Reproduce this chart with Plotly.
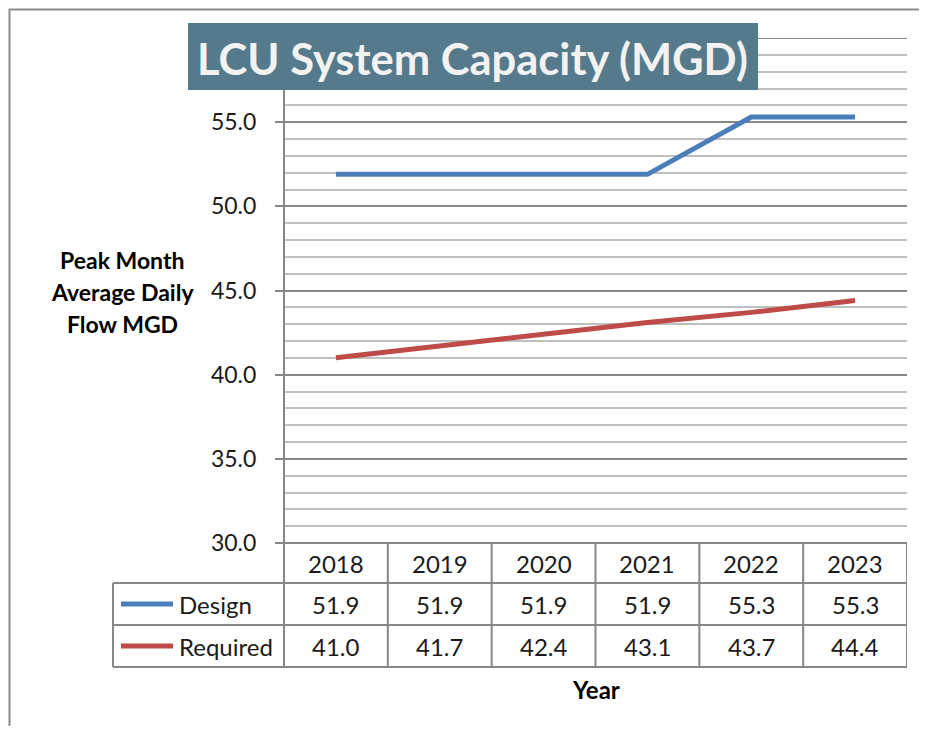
import plotly.graph_objects as go

years = ["2018", "2019", "2020", "2021", "2022", "2023"]
design = [51.9, 51.9, 51.9, 51.9, 55.3, 55.3]
required = [41.0, 41.7, 42.4, 43.1, 43.7, 44.4]
series_names = ["Design", "Required"]
series_colors = ["#4A7EBB", "#BE4B48"]
title_text = "LCU System Capacity (MGD)"
y_title_lines = ["Peak Month", "Average Daily", "Flow MGD"]
x_title = "Year"
y_ticks = [30, 35, 40, 45, 50, 55]

# page has an 8px body margin; keep the figure inside the window (no scrollbars)
OFF = 8
W, H = 927 - 2 * OFF, 734 - 2 * OFF
FONT = "Lato"
GRID_MAJOR = "#878787"
GRID_MINOR = "#BFBFBF"
TXT = "#1a1a1a"


def px(x):
    return (x - OFF) / W


def py(y):
    return 1 - (y - OFF) / H


fig = go.Figure()
for name, vals, col in zip(series_names, [design, required], series_colors):
    fig.add_trace(go.Scatter(x=list(range(len(years))), y=vals, mode="lines", name=name,
                             line=dict(color=col, width=5), showlegend=False, hoverinfo="skip"))

shapes = []
annotations = []

# outer frame
shapes.append(dict(type="rect", xref="paper", yref="paper", x0=px(9.5), x1=px(990), y0=py(9.5), y1=py(800),
                   line=dict(color="#8C8C8C", width=2), fillcolor="rgba(0,0,0,0)", layer="below"))

# table geometry
row_edges = [543, 583, 625, 667]
left_col = 113
line_style = dict(color=GRID_MAJOR, width=2)
shapes.append(dict(type="line", xref="x", yref="paper", x0=-0.5, x1=5.5, y0=py(543), y1=py(543), line=line_style, layer="above"))
for yy in row_edges[1:]:
    shapes.append(dict(type="line", xref="paper", yref="paper", x0=px(left_col), x1=px(907), y0=py(yy), y1=py(yy), line=line_style, layer="above"))
for i in range(len(years) + 1):
    shapes.append(dict(type="line", xref="x", yref="paper", x0=i - 0.5, x1=i - 0.5, y0=py(543), y1=py(667), line=line_style, layer="above"))
shapes.append(dict(type="line", xref="paper", yref="paper", x0=px(left_col), x1=px(left_col), y0=py(583), y1=py(667), line=line_style, layer="above"))

hdr_y = py((543 + 583) / 2)
for i, yr in enumerate(years):
    annotations.append(dict(x=i, y=hdr_y, xref="x", yref="paper", text=yr, showarrow=False,
                            font=dict(family=FONT, size=24, color=TXT), xanchor="center", yanchor="middle"))
for r, (name, vals, col) in enumerate(zip(series_names, [design, required], series_colors)):
    yc = py((row_edges[r + 1] + row_edges[r + 2]) / 2)
    shapes.append(dict(type="line", xref="paper", yref="paper", x0=px(121), x1=px(173), y0=yc, y1=yc,
                       line=dict(color=col, width=5), layer="above"))
    annotations.append(dict(x=px(177), y=yc, xref="paper", yref="paper", text=name, showarrow=False,
                            font=dict(family=FONT, size=24, color=TXT), xanchor="left", yanchor="middle"))
    for i, v in enumerate(vals):
        annotations.append(dict(x=i, y=yc, xref="x", yref="paper", text=f"{v:.1f}", showarrow=False,
                                font=dict(family=FONT, size=24, color=TXT), xanchor="center", yanchor="middle"))

# y axis left line (through table)
shapes.append(dict(type="line", xref="paper", yref="paper", x0=px(284), x1=px(284), y0=py(38), y1=py(667),
                   line=line_style, layer="above"))

# title box
shapes.append(dict(type="rect", xref="paper", yref="paper", x0=px(188), x1=px(758), y0=py(23), y1=py(90),
                   fillcolor="#557A8C", line=dict(width=0), layer="above"))
annotations.append(dict(x=px(472), y=py(58), xref="paper", yref="paper", text=title_text, showarrow=False,
                        font=dict(family=FONT, size=43.5, color="#F2F2F2", weight="bold"),
                        xanchor="center", yanchor="middle"))

for k, t in enumerate(y_title_lines):
    annotations.append(dict(x=px(122), y=py(260 + 32 * k), xref="paper", yref="paper", text=t, showarrow=False,
                            font=dict(family=FONT, size=23, color="#000000", weight="bold"),
                            xanchor="center", yanchor="middle"))
annotations.append(dict(x=px(596), y=py(689), xref="paper", yref="paper", text=x_title, showarrow=False,
                        font=dict(family=FONT, size=24, color="#000000", weight="bold"),
                        xanchor="center", yanchor="middle"))

fig.update_layout(
    template="none",
    width=W, height=H, autosize=False,
    margin=dict(l=0, r=0, t=0, b=0, pad=0, autoexpand=False),
    paper_bgcolor="white", plot_bgcolor="white",
    showlegend=False,
    shapes=shapes, annotations=annotations,
    xaxis=dict(domain=[px(284), px(907)], range=[-0.5, 5.5], showgrid=False, showticklabels=False,
               zeroline=False, showline=False, ticks="", fixedrange=True, automargin=False),
    yaxis=dict(domain=[py(543), py(38)], range=[30, 60], tickvals=y_ticks,
               ticktext=[f"{v:.1f}" for v in y_ticks],
               showgrid=True, gridcolor=GRID_MAJOR, gridwidth=2,
               minor=dict(dtick=1, tick0=30, showgrid=True, gridcolor=GRID_MINOR, gridwidth=2, ticks=""),
               ticks="outside", ticklen=8, tickwidth=2, tickcolor=GRID_MAJOR,
               ticklabelstandoff=14, automargin=False,
               tickfont=dict(family=FONT, size=23, color=TXT),
               zeroline=False, showline=False, fixedrange=True),
)
fig.add_shape(type="line", xref="x", yref="y", x0=-0.5, x1=5.5, y0=60, y1=60,
              line=dict(color=GRID_MAJOR, width=2), layer="below")

fig.write_html("out.html", config={"responsive": False, "displayModeBar": False})
